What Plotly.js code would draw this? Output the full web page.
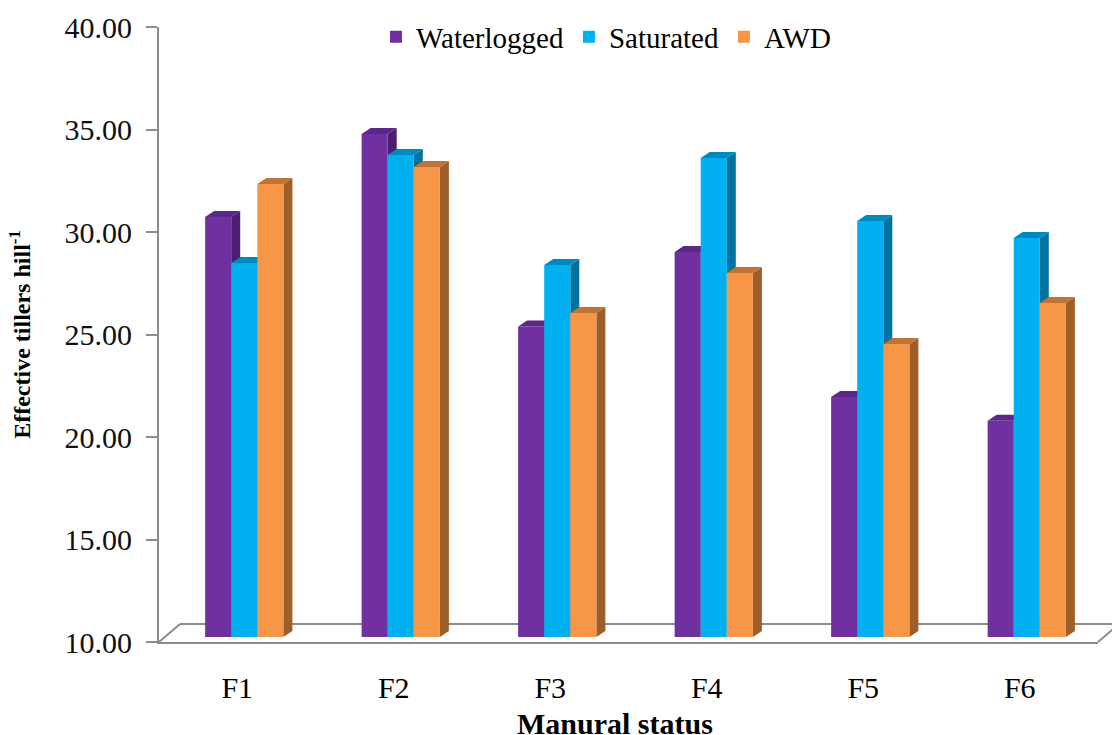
<!DOCTYPE html>
<html>
<head>
<meta charset="utf-8">
<script src="https://cdn.plot.ly/plotly-3.0.1.min.js"></script>
<style>html,body{margin:0;padding:0;background:#fff;}#chart{width:1112px;height:735px;}</style>
</head>
<body>
<div id="chart"></div>
<script>
const categories = ['F1', 'F2', 'F3', 'F4', 'F5', 'F6'];
const waterlogged = [30.49, 34.54, 25.15, 28.78, 21.71, 20.55];
const saturated = [28.24, 33.51, 28.15, 33.37, 30.29, 29.46];
const awd = [32.10, 32.93, 25.80, 27.76, 24.29, 26.29];
const seriesNames = ['Waterlogged', 'Saturated', 'AWD'];
const yTickVals = [10, 15, 20, 25, 30, 35, 40];
const yTickText = ['10.00', '15.00', '20.00', '25.00', '30.00', '35.00', '40.00'];
const xTitle = 'Manural status';
const yTitle = 'Effective tillers hill<sup>-1</sup>';

const seriesValues = [waterlogged, saturated, awd];
const frontColors = ['#7030A0', '#00B0F0', '#F79646'];
const sideColors = ['#4B1E6E', '#00729E', '#9E5E2A'];
const topColors = ['#5B2788', '#0089BD', '#BE7436'];

// geometry (pixels)
const W = 1112, H = 735;
const mL = 159, mR = 7, mT = 22, mB = 93;
const plotW = W - mL - mR;   // 946
const plotH = H - mT - mB;   // 620
const shiftX = 7, shiftY = 5;          // bar plane offset from axis plane
const axisW = plotW - shiftX, axisH = plotH - shiftY;
const pxPerX = axisW / 6, pxPerY = axisH / 30;
const ddx = 9 / pxPerX, ddy = 6 / pxPerY; // bar depth

const idx = categories.map((c, i) => i);
const traces = seriesValues.map((vals, s) => ({
  type: 'bar',
  name: seriesNames[s],
  x: idx,
  y: vals,
  xaxis: 'x2',
  yaxis: 'y2',
  marker: {color: frontColors[s], line: {width: 0}},
  hoverinfo: 'y'
}));
// empty trace so the visible axis pair (x, y) is drawn
traces.unshift({type: 'scatter', x: [], y: [], xaxis: 'x', yaxis: 'y', showlegend: false, hoverinfo: 'skip', mode: 'markers'});

const shapes = [];
// floor (decoration) in paper coords
const px = v => (v - mL) / plotW;
const py = v => (H - mB - v) / plotH;
const floorColor = '#8c8c8c';
shapes.push({type: 'line', xref: 'paper', yref: 'paper', x0: px(159), y0: py(642), x1: px(180), y1: py(624), line: {color: floorColor, width: 2}, layer: 'below'});
shapes.push({type: 'line', xref: 'paper', yref: 'paper', x0: px(180), y0: py(624), x1: px(1125), y1: py(624), line: {color: floorColor, width: 2}, layer: 'below'});
shapes.push({type: 'line', xref: 'paper', yref: 'paper', x0: px(1098), y0: py(642), x1: px(1119), y1: py(624), line: {color: floorColor, width: 2}, layer: 'below'});

// 3D side and top faces from data
seriesValues.forEach((vals, s) => {
  vals.forEach((v, i) => {
    const x0 = i - 0.25 + s / 6;
    const x1 = x0 + 1 / 6;
    const base = 10;
    shapes.push({
      type: 'path', xref: 'x2', yref: 'y2', layer: 'below',
      path: `M${x1},${base} L${x1 + ddx},${base + ddy} L${x1 + ddx},${v + ddy} L${x1},${v} Z`,
      fillcolor: sideColors[s], line: {width: 0}
    });
    shapes.push({
      type: 'path', xref: 'x2', yref: 'y2', layer: 'below',
      path: `M${x0},${v} L${x0 + ddx},${v + ddy} L${x1 + ddx},${v + ddy} L${x1},${v} Z`,
      fillcolor: topColors[s], line: {width: 0}
    });
  });
});

const serif = 'Liberation Serif, Times New Roman, serif';
const layout = {
  width: W, height: H,
  margin: {l: mL, r: mR, t: mT, b: mB, pad: 0},
  paper_bgcolor: '#fff', plot_bgcolor: 'rgba(0,0,0,0)',
  barmode: 'group', bargap: 0.5, bargroupgap: 0,
  showlegend: true,
  legend: {
    orientation: 'h', x: px(606), xanchor: 'center', y: py(37), yanchor: 'middle',
    font: {family: serif, size: 29, color: '#000'}, bgcolor: 'rgba(0,0,0,0)'
  },
  xaxis: {
    domain: [0, axisW / plotW], anchor: 'y', range: [-0.5, 5.5],
    tickvals: idx, ticktext: categories, ticks: '', showgrid: false, zeroline: false,
    showline: true, linecolor: floorColor, linewidth: 2,
    tickfont: {family: serif, size: 30, color: '#000'}, ticklabelstandoff: 18
  },
  yaxis: {
    domain: [0, axisH / plotH], anchor: 'x', range: [10, 40],
    tickvals: yTickVals, ticktext: yTickText, ticks: 'outside', ticklen: 11, tickwidth: 2, tickcolor: floorColor,
    showgrid: false, zeroline: false, showline: true, linecolor: floorColor, linewidth: 2,
    tickfont: {family: serif, size: 30, color: '#111'}, ticklabelstandoff: 8,
    title: {text: yTitle, font: {family: serif, size: 24, color: '#000', weight: 700}, standoff: 27}
  },
  xaxis2: {domain: [shiftX / plotW, 1], anchor: 'y2', range: [-0.5, 5.5], visible: false, fixedrange: true},
  yaxis2: {domain: [shiftY / plotH, 1], anchor: 'x2', range: [10, 40], visible: false, fixedrange: true},
  annotations: [{
    text: xTitle, xref: 'paper', yref: 'paper', x: px(615), y: py(705), xanchor: 'center', yanchor: 'top',
    showarrow: false, font: {family: serif, size: 30, color: '#000', weight: 700}
  }],
  shapes: shapes
};

Plotly.newPlot('chart', traces, layout, {displayModeBar: false, staticPlot: true});
</script>
</body>
</html>
